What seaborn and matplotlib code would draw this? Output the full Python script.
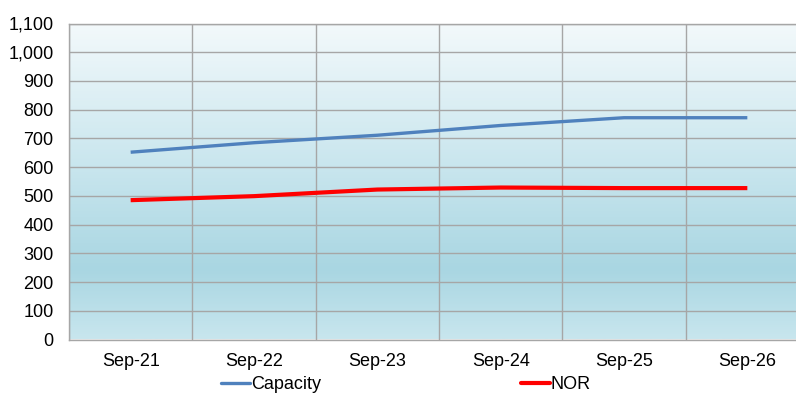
import numpy as np
import pandas as pd
import matplotlib
matplotlib.use("Agg")
import matplotlib.pyplot as plt
from matplotlib.colors import LinearSegmentedColormap
from matplotlib.ticker import FuncFormatter
import seaborn as sns

# Data
periods = ["Sep-21", "Sep-22", "Sep-23", "Sep-24", "Sep-25", "Sep-26"]
capacity = [652, 685, 711, 745, 772, 772]
nor = [485, 499, 522, 529, 527, 527]
y_ticks = list(range(0, 1101, 100))

df = pd.DataFrame({
    "period": periods * 2,
    "value": capacity + nor,
    "series": ["Capacity"] * len(periods) + ["NOR"] * len(periods),
})

sns.set_theme(style="white")
plt.rcParams["font.family"] = ["Liberation Sans", "DejaVu Sans"]
plt.rcParams["text.color"] = "black"

fig = plt.figure(figsize=(7.96, 3.93), dpi=100)
ax = fig.add_axes([69 / 796, (393 - 339.5) / 393, 740 / 796, 316 / 393])

# Vertical gradient background of the plotting area
grad = LinearSegmentedColormap.from_list(
    "bg",
    [(0.0, "#c8e6ee"), (0.22, "#a9d6e2"), (0.55, "#c9e6ee"), (1.0, "#f3f9fb")],
)
ax.imshow(np.linspace(0, 1, 256).reshape(-1, 1), cmap=grad, origin="lower",
          aspect="auto", extent=(-0.5, 5.5, 0, 1100), zorder=0)

sns.lineplot(data=df, x="period", y="value", hue="series",
             palette={"Capacity": "#4f81bd", "NOR": "#ff0000"},
             ax=ax, legend=False, zorder=3)
lines = ax.get_lines()
lines[0].set_linewidth(2.4)
lines[1].set_linewidth(3.0)
for ln in lines:
    ln.set_solid_capstyle("butt")

ax.set_xlim(-0.5, 5.5)
ax.set_ylim(0, 1100)
ax.set_yticks(y_ticks)
ax.yaxis.set_major_formatter(FuncFormatter(lambda v, p: f"{int(v):,}"))
ax.set_xticks(np.arange(len(periods)))
ax.set_xticklabels(periods)
ax.set_xticks(np.arange(-0.5, 5.6, 1), minor=True)

ax.grid(False)
ax.yaxis.grid(True, which="major", color="#a6a6a6", linewidth=1.0, zorder=1)
ax.xaxis.grid(True, which="minor", color="#a6a6a6", linewidth=1.0, zorder=1)
ax.set_axisbelow(False)
for ln in ax.get_xgridlines() + ax.get_ygridlines():
    ln.set_zorder(1)

for s in ax.spines.values():
    s.set_color("#a6a6a6")
    s.set_linewidth(1.0)

ax.tick_params(axis="both", which="both", length=0, labelsize=13, colors="#000000")
ax.tick_params(axis="y", pad=11)
ax.tick_params(axis="x", pad=10)
ax.set_xlabel("")
ax.set_ylabel("")

handles = [
    plt.Line2D([], [], color="#4f81bd", linewidth=2.4),
    plt.Line2D([], [], color="#ff0000", linewidth=3.0),
]
fig.legend(handles, ["Capacity", "NOR"], loc="center",
           bbox_to_anchor=(406 / 796, 8.5 / 393), ncol=2, frameon=False,
           fontsize=13, handlelength=1.6, handletextpad=0.05,
           columnspacing=11.1, borderpad=0, labelcolor="black")

fig.savefig("out.png", dpi=100)
